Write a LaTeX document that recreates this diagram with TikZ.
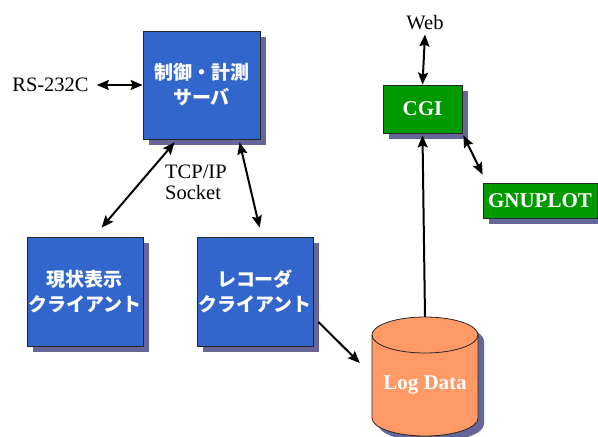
\documentclass[tikz,border=0pt]{standalone}
\usepackage{fontspec}
\setmainfont{Liberation Serif}
\newfontfamily\jpfont{Noto Sans CJK JP}
\usetikzlibrary{arrows.meta,shadows}
\definecolor{srvblue}{HTML}{3366CC}
\definecolor{cgigreen}{HTML}{009900}
\definecolor{logpeach}{HTML}{FF9966}
\definecolor{shade}{HTML}{666699}
\tikzset{
  boxshade/.style={general shadow={fill=shade,shadow xshift=6pt,shadow yshift=-6pt}},
  jpbox/.style={boxshade,draw=black!85,line width=0.8pt,fill=srvblue,text=white,align=center,inner sep=0pt,
    font=\jpfont\bfseries\fontsize{19}{25}\selectfont},
  enbox/.style={boxshade,draw=black!85,line width=0.8pt,fill=cgigreen,text=white,inner sep=0pt,
    font=\bfseries\fontsize{21}{24}\selectfont},
  lbl/.style={font=\fontsize{20.5}{21}\selectfont,inner sep=0pt},
  dbl/.style={{Stealth[length=12pt,width=10pt,inset=2pt]}-{Stealth[length=12pt,width=10pt,inset=2pt]},line width=2pt},
  sgl/.style={-{Stealth[length=12pt,width=10pt,inset=2pt]},line width=2pt},
}
\begin{document}
\begin{tikzpicture}[x=1pt,y=-1pt]
\useasboundingbox(0,0)rectangle(598,437);
\pgfmathsetmacro{\krx}{53}
\pgfmathsetmacro{\kry}{18}
% boxes
\node[jpbox,minimum width=117pt,minimum height=108pt](server)at(201.5,85){制御・計測\\サーバ};
\node[jpbox,minimum width=116pt,minimum height=109pt](genjo)at(85,291.5){現状表示\\クライアント};
\node[jpbox,minimum width=116pt,minimum height=109pt](recorder)at(255,291.5){レコーダ\\クライアント};
\node[enbox,minimum width=79pt,minimum height=48pt](cgi)at(422.5,109){CGI};
\node[enbox,minimum width=114pt,minimum height=35pt](gnuplot)at(540,200.5){GNUPLOT};
% log data drum
\node[inner sep=0pt,minimum width=106pt,minimum height=119pt](logdata)at(425,376.5){};
\path[boxshade,draw=black!85,line width=0.8pt,fill=logpeach]
  (372,335)--(372,418)arc[start angle=180,end angle=360,x radius=\krx pt,y radius=\kry pt]
  --(478,335)arc[start angle=0,end angle=180,x radius=\krx pt,y radius=\kry pt]--cycle;
\draw[black!85,line width=0.8pt](372,335)arc[start angle=180,end angle=360,x radius=\krx pt,y radius=\kry pt];
\node[text=white,font=\bfseries\fontsize{21}{24}\selectfont,inner sep=0pt](logtext)at(425,385){Log Data};
% labels
\node[lbl](rs)at(50.5,85){RS-232C};
\node[lbl](web)at(425,23){Web};
\node[lbl,align=left,anchor=west](tcp)at(165,182){TCP/IP\\Socket};
% arrows
\draw[dbl]([xshift=8pt]rs.east)--(server.west);
\draw[dbl]([yshift=-4pt]web.south)--(cgi.north);
\draw[dbl]([xshift=32pt,yshift=-3pt]server.south west)--([xshift=75pt,yshift=9pt]genjo.north west);
\draw[dbl]([xshift=97pt,yshift=-3pt]server.south west)--([xshift=63pt,yshift=9pt]recorder.north west);
\draw[dbl]([xshift=1pt,yshift=-2pt]cgi.south east)--([yshift=8pt]gnuplot.north west);
\draw[sgl]([xshift=5pt,yshift=-30.5pt]recorder.east)--([xshift=-12pt,yshift=13.5pt]logdata.west);
\draw[sgl](logdata.north)--([yshift=-2pt]cgi.south);
\end{tikzpicture}
\end{document}
